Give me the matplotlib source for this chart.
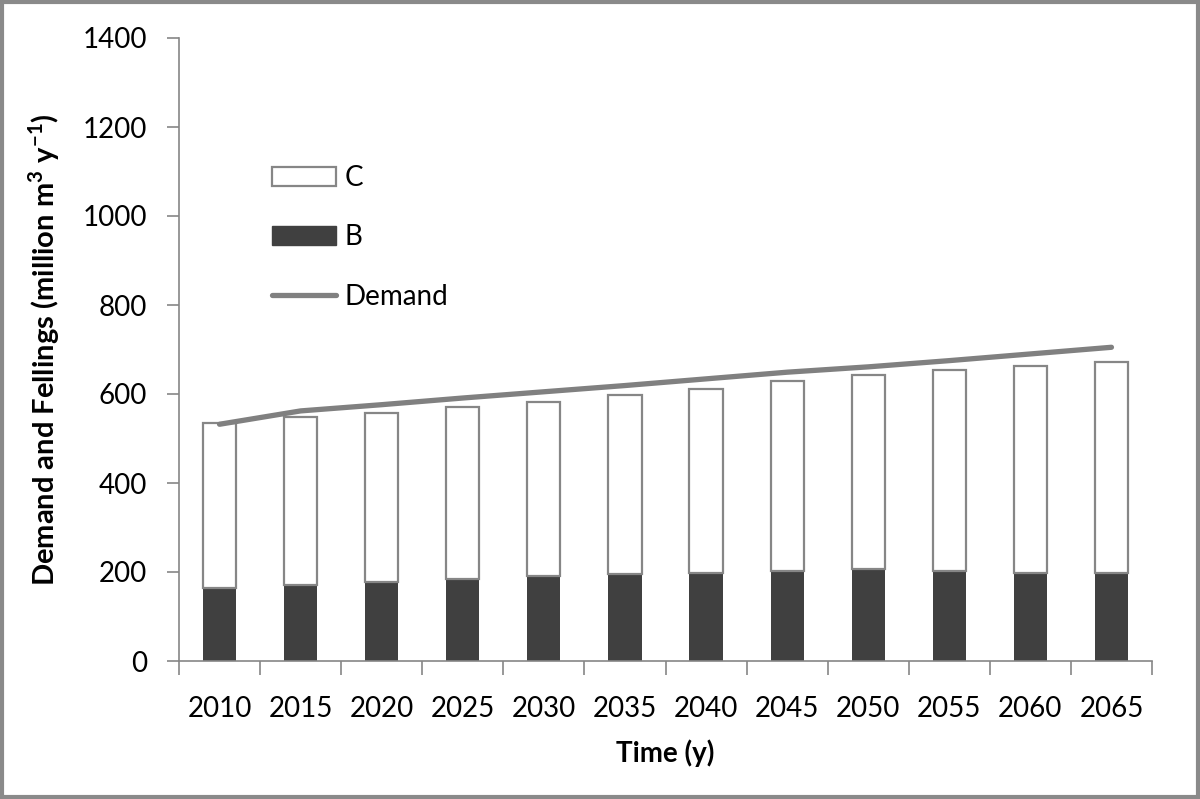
import matplotlib
matplotlib.use("Agg")
import matplotlib.pyplot as plt
from matplotlib.patches import Patch, Rectangle
from matplotlib.lines import Line2D
import numpy as np

years = ["2010", "2015", "2020", "2025", "2030", "2035", "2040", "2045", "2050", "2055", "2060", "2065"]
fell_B = [163, 171, 178, 185, 192, 196, 198, 203, 206, 203, 198, 198]
fell_total = [534, 549, 557, 570, 583, 598, 611, 629, 643, 654, 664, 671]
demand = [532, 562, 576, 591, 605, 619, 634, 649, 661, 675, 690, 705]
fell_C = [t - b for t, b in zip(fell_total, fell_B)]

plt.rcParams['font.family'] = ['Lato', 'DejaVu Sans']
plt.rcParams['mathtext.fontset'] = 'custom'
plt.rcParams['mathtext.bf'] = 'Lato:bold'
plt.rcParams['mathtext.rm'] = 'Lato'

W, H = 1200, 799
fig = plt.figure(figsize=(W / 100, H / 100), dpi=100)
ax = fig.add_axes([179 / W, 1 - 661 / H, (1152 - 179) / W, (661 - 38) / H])

x = np.arange(len(years))
grey = '#868686'
ax.bar(x, fell_B, width=0.41, color='#404040', edgecolor='#404040', linewidth=0, label='B', zorder=2)
ax.bar(x, fell_C, bottom=fell_B, width=0.41, color='white', edgecolor=grey, linewidth=1.6, label='C', zorder=2)
ax.plot(x, demand, color='#808080', linewidth=3.8, solid_capstyle='round', label='Demand', zorder=3)

ax.set_xlim(-0.5, len(years) - 0.5)
ax.set_ylim(0, 1400)
ax.set_yticks(np.arange(0, 1401, 200))
ax.set_xticks(x)
ax.set_xticklabels(years)
ax.set_xticks(np.arange(-0.5, len(years)), minor=True)
ax.tick_params(axis='x', which='major', length=0, pad=25, labelsize=20)
ax.tick_params(axis='x', which='minor', length=10, width=1.2, color=grey, direction='out')
ax.tick_params(axis='y', which='major', length=9, width=1.2, color=grey, direction='out', pad=14, labelsize=20)

for s in ['top', 'right']:
    ax.spines[s].set_visible(False)
for s in ['left', 'bottom']:
    ax.spines[s].set_color(grey)
    ax.spines[s].set_linewidth(1.2)

ax.set_xlabel('Time (y)', fontsize=20, fontweight='bold')
ax.xaxis.label.set_va('center')
ax.xaxis.set_label_coords(0.5, (661 - 753) / 623)
ax.set_ylabel('Demand and Fellings (million m$^\\mathbf{3}$ y$^\\mathbf{-1}$)', fontsize=21, fontweight='bold')
ax.yaxis.label.set_va('center')
ax.yaxis.set_label_coords((44 - 179) / 973, 0.5)

handles = [Patch(facecolor='white', edgecolor=grey, linewidth=1.6, label='C'),
           Patch(facecolor='#404040', edgecolor='#404040', label='B'),
           Line2D([0], [0], color='#808080', linewidth=3.8, solid_capstyle='round', label='Demand')]
fig.legend(handles=handles, loc='upper left', bbox_to_anchor=(272 / W, 1 - 165 / H),
           frameon=False, fontsize=20, handlelength=2.3, handleheight=0.7,
           handletextpad=0.3, labelspacing=1.2, borderpad=0, borderaxespad=0)

fig.patches.append(Rectangle((0.0015, 0.002), 0.997, 0.996, transform=fig.transFigure,
                             fill=False, edgecolor='#8a8a8a', linewidth=3))

fig.savefig('out.png', dpi=100)
